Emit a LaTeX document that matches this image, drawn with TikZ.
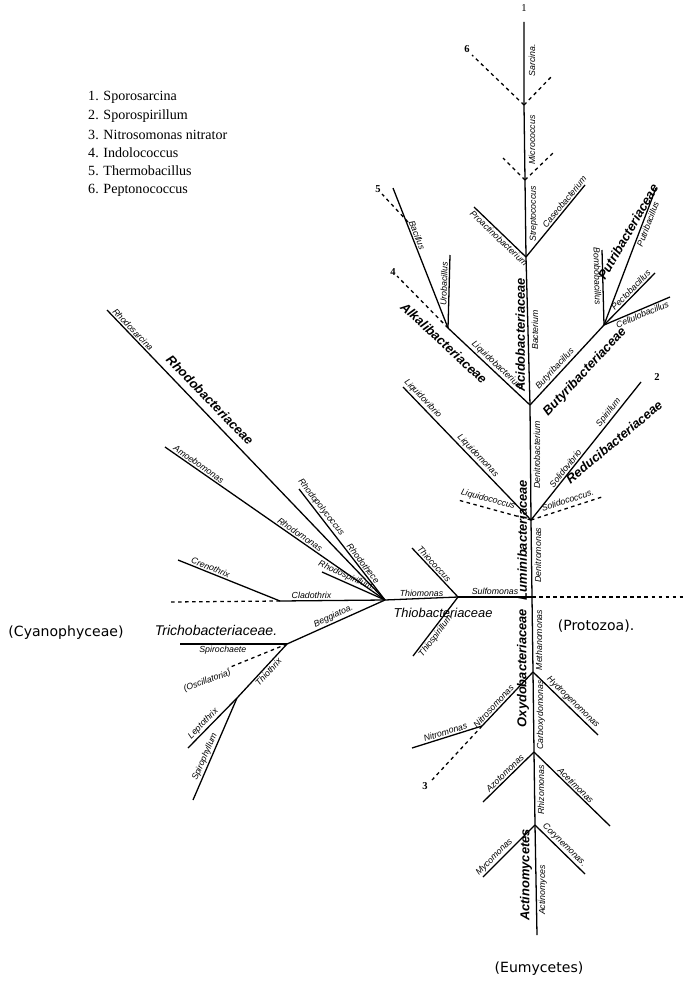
\documentclass[tikz,border=0pt]{standalone}
\usepackage{fontspec}
\setmainfont{Liberation Serif}
\newfontfamily\labf{Liberation Sans}
\newfontfamily\capf{DejaVu Sans}
\begin{document}
\begin{tikzpicture}[x=0.03cm,y=-0.03cm,
  br/.style={line width=1.1pt},
  dsh/.style={line width=1.1pt,dashed},
  lab/.style={font=\labf\itshape\fontsize{7.5}{8}\selectfont,inner sep=1.2pt},
  fam/.style={font=\labf\bfseries\itshape\fontsize{11}{11}\selectfont,inner sep=1.5pt},
  big/.style={font=\capf\fontsize{12}{12}\selectfont},
  leg/.style={font=\fontsize{12}{13}\selectfont,anchor=west,inner sep=0pt}]
\useasboundingbox (0,0) rectangle (685,981);
% trunk
\coordinate (t0) at (524,22);
\coordinate (j1) at (524,105);
\coordinate (j2) at (525,180);
\coordinate (j3) at (526,257);
\coordinate (j4) at (530,405);
\coordinate (j5) at (531,520);
\coordinate (j6) at (532,597);
\coordinate (j7) at (533,672);
\coordinate (j8) at (534,752);
\coordinate (j9) at (535,825);
\coordinate (t1) at (537,935);
\draw[br] (t0)--(j1)--(j2)--(j3)--(j4)--(j5)--(j6)--(j7)--(j8)--(j9)--(t1);
\node[font=\fontsize{9}{9}\selectfont] (n1) at (524,8) {1};
% trunk labels
\node[lab,rotate=90,anchor=north] (sar) at (527,60) {Sarcina.};
\node[lab,rotate=90,anchor=north] (mic) at (527,140) {Micrococcus};
\node[lab,rotate=90,anchor=north] (str) at (528,214) {Streptococcus};
\node[lab,rotate=90,anchor=north] (bac) at (530,330) {Bacterium};
\node[fam,rotate=90,anchor=south] (aci) at (527,335) {Acidobacteriaceae};
\node[lab,rotate=90,anchor=north] (den) at (532,455) {Denitrobacterium};
\node[fam,rotate=90,anchor=south] (lum) at (529,540) {Luminibacteriaceae};
\node[lab,rotate=90,anchor=north] (dem) at (533,555) {Denitromonas};
\node[fam,rotate=90,anchor=south] (oxy) at (531,668) {Oxydobacteriaceae};
\node[lab,rotate=90,anchor=north] (met) at (534,640) {Methanomonas};
\node[lab,rotate=90,anchor=north] (car) at (535,715) {Carboxydomonas};
\node[lab,rotate=90,anchor=north] (rhi) at (536,790) {Rhizomonas};
\node[fam,rotate=90,anchor=south] (act) at (534,875) {Actinomycetes};
\node[lab,rotate=90,anchor=north] (acy) at (537,890) {Actinomyces};
% top dashed
\coordinate (d6) at (472,55);
\coordinate (d6r) at (553,75);
\coordinate (d7) at (503,158);
\coordinate (d7r) at (553,153);
\draw[dsh] (j1)--(d6); \draw[dsh] (j1)--(d6r);
\draw[dsh] (j2)--(d7); \draw[dsh] (j2)--(d7r);
\node[font=\bfseries\fontsize{9}{9}\selectfont] (n6) at (467,49) {6};
% j3
\coordinate (pa) at (474,207);
\coordinate (ca) at (585,185);
\draw[br] (j3)-- node[lab,sloped,below,pos=0.45]{Proactinobacterium} (pa);
\draw[br] (j3)-- node[lab,sloped,above,pos=0.72]{Caseobacterium} (ca);
% alkali
\coordinate (ja) at (448,328);
\coordinate (bc) at (393,188);
\coordinate (ub) at (450,255);
\coordinate (d4) at (397,276);
\coordinate (d5) at (382,194);
\coordinate (d5e) at (408,222);
\draw[br] (j4)-- node[lab,sloped,above,pos=0.45]{Liquidobacterium} (ja);
\draw[br] (ja)-- node[lab,sloped,above,pos=0.65]{Bacillus} (bc);
\draw[br] (ja)-- node[lab,sloped,above,pos=0.6]{Urobacillus} (ub);
\draw[dsh] (ja)--(d4); \draw[dsh] (d5e)--(d5);
\node[font=\bfseries\fontsize{9}{9}\selectfont] (n4) at (393,272) {4};
\node[font=\bfseries\fontsize{9}{9}\selectfont] (n5) at (378,189) {5};
\node[fam,rotate=-43] (alk) at (444,343) {Alkalibacteriaceae};
% butyri
\coordinate (jb) at (604,325);
\coordinate (bo) at (602,250);
\coordinate (pu) at (656,188);
\coordinate (pe) at (655,273);
\coordinate (ce) at (670,297);
\draw[br] (j4)-- node[lab,sloped,above,pos=0.4]{Butyribacillus} (jb);
\draw[br] (jb)-- node[lab,sloped,below,pos=0.65]{Bombobacillus} (bo);
\draw[br] (jb)-- node[lab,sloped,below,pos=0.75]{Putribacillus} (pu);
\draw[br] (jb)-- node[lab,sloped,above,pos=0.6]{Pectobacillus} (pe);
\draw[br] (jb)-- node[lab,sloped,below,pos=0.55]{Cellulobacillus} (ce);
\node[fam,rotate=47] (bfam) at (585,372) {Butyribacteriaceae};
\node[fam,rotate=60] (pfam) at (628,232) {Putribacteriaceae};
% j5
\coordinate (lv) at (403,387);
\coordinate (lc) at (458,500);
\coordinate (sp) at (641,382);
\coordinate (sc) at (602,497);
\draw[br] (j5)-- node[lab,sloped,above,pos=0.45]{Liquidomonas} node[lab,sloped,above,pos=0.88]{Liquidovibrio} (lv);
\draw[dsh] (j5)-- node[lab,sloped,above=2pt,pos=0.62]{Liquidococcus} (lc);
\draw[br] (j5)-- node[lab,sloped,above,pos=0.35]{Solidovibrio} node[lab,sloped,above,pos=0.75]{Spirillum} (sp);
\draw[dsh] (j5)-- node[lab,sloped,above=2pt,pos=0.55]{Solidococcus.} (sc);
\node[fam,rotate=40] (rfam) at (614,442) {Reducibacteriaceae};
\node[font=\bfseries\fontsize{9}{9}\selectfont] (n2) at (657,377) {2};
% horizontal dashed
\coordinate (hl) at (170,602);
\coordinate (hr) at (685,597);
\draw[dsh] (j6)--(hr);
% thio
\coordinate (jt) at (458,597);
\coordinate (tc) at (412,548);
\coordinate (ts) at (413,656);
\coordinate (jr) at (385,600);
\draw[br] (j6)-- node[lab,above,pos=0.5]{Sulfomonas} (jt);
\draw[br] (jt)-- node[lab,sloped,above,pos=0.6]{Thiococcus} (tc);
\draw[br] (jt)-- node[lab,sloped,below,pos=0.6]{Thiospirillum} (ts);
\draw[br] (jt)-- node[lab,above,pos=0.5]{Thiomonas} (jr);
\node[font=\labf\itshape\fontsize{11}{11}\selectfont] (tfam) at (443,613) {Thiobacteriaceae};
% rhodo
\coordinate (rs) at (107,310);
\coordinate (am) at (165,447);
\coordinate (rp) at (299,489);
\coordinate (rsp) at (322,572);
\coordinate (jc) at (280,601);
\coordinate (cr) at (178,560);
\draw[br] (jr)-- node[lab,sloped,above,pos=0.92]{Rhodosarcina} (rs);
\draw[br] (jr)-- node[lab,sloped,above,pos=0.4]{Rhodomonas} node[lab,sloped,above,pos=0.86]{Amoebomonas} (am);
\draw[br] (jr)-- node[lab,sloped,above,pos=0.3]{Rhodothece} node[lab,sloped,above,pos=0.8]{Rhodopolycoccus} (rp);
\draw[br] (jr)-- node[lab,sloped,above,pos=0.65]{Rhodospirillum.} (rsp);
\draw[br] (jr)-- node[lab,above,pos=0.7]{Cladothrix} (jc);
\draw[br] (jc)-- node[lab,sloped,above,pos=0.7]{Crenothrix} (cr);
\draw[dsh] (jc)--(hl);
\node[fam,rotate=-46] (rfam2) at (210,400) {Rhodobacteriaceae};
% tricho
\coordinate (jtr) at (287,644);
\coordinate (spc) at (180,644);
\coordinate (osc) at (228,668);
\coordinate (jth) at (237,698);
\coordinate (le) at (188,748);
\coordinate (sph) at (193,800);
\draw[br] (jr)-- node[lab,sloped,above,pos=0.5]{Beggiatoa.} (jtr);
\draw[br] (jtr)-- node[lab,below,pos=0.6]{Spirochaete} (spc);
\draw[dsh] (jtr)--(osc);
\node[lab,rotate=20,anchor=east] (osl) at (232,672) {(Oscillatoria)};
\draw[br] (jtr)-- node[lab,sloped,below,pos=0.45]{Thiothrix} (jth);
\draw[br] (jth)-- node[lab,sloped,above,pos=0.6]{Leptothrix} (le);
\draw[br] (jth)-- node[lab,sloped,above,pos=0.6]{Spirophyllum} (sph);
\node[font=\labf\itshape\fontsize{12}{12}\selectfont] (trf) at (216,630) {Trichobacteriaceae.};
% lower
\coordinate (jn) at (482,726);
\coordinate (nm) at (412,748);
\coordinate (d3) at (432,780);
\coordinate (hy) at (598,735);
\coordinate (az) at (483,802);
\coordinate (ac) at (610,826);
\coordinate (my) at (483,877);
\coordinate (co) at (585,874);
\draw[br] (j7)-- node[lab,sloped,above,pos=0.7]{Nitrosomonas} (jn);
\draw[br] (jn)-- node[lab,sloped,above,pos=0.5]{Nitromonas} (nm);
\draw[dsh] (jn)--(d3);
\node[font=\bfseries\fontsize{9}{9}\selectfont] (n3) at (425,786) {3};
\draw[br] (j7)-- node[lab,sloped,above,pos=0.55]{Hydrogenomonas} (hy);
\draw[br] (j8)-- node[lab,sloped,above,pos=0.5]{Azotomonas} (az);
\draw[br] (j8)-- node[lab,sloped,above,pos=0.5]{Acetimonas} (ac);
\draw[br] (j9)-- node[lab,sloped,above,pos=0.7]{Mycomonas} (my);
\draw[br] (j9)-- node[lab,sloped,above,pos=0.5]{Corynemonas.} (co);
% big labels
\node[big] (cy) at (66,633) {(Cyanophyceae)};
\node[big] (pr) at (596,626) {(Protozoa).};
\node[big] (eu) at (539,969) {(Eumycetes)};
% legend
\node[leg] (l1) at (88,97) {1. Sporosarcina};
\node[leg] (l2) at (88,116) {2. Sporospirillum};
\node[leg] (l3) at (88,135) {3. Nitrosomonas nitrator};
\node[leg] (l4) at (88,153) {4. Indolococcus};
\node[leg] (l5) at (88,171) {5. Thermobacillus};
\node[leg] (l6) at (88,190) {6. Peptonococcus};
\end{tikzpicture}
\end{document}
